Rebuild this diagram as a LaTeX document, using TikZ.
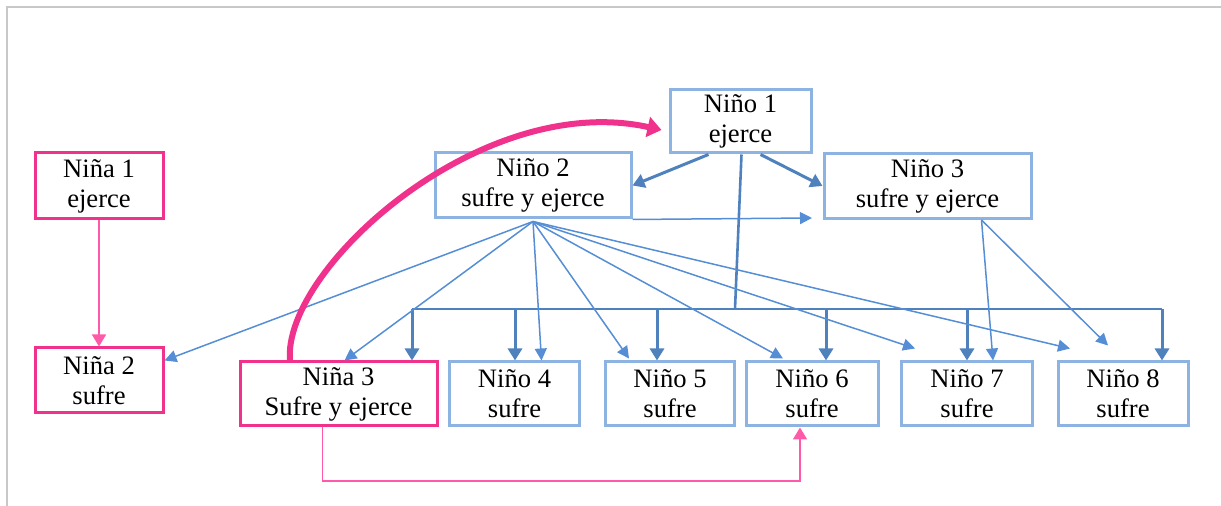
\documentclass[tikz,border=0pt]{standalone}
\usepackage{fontspec}
\setmainfont{Liberation Serif}
\usetikzlibrary{arrows.meta}
\definecolor{boxblue}{RGB}{141,179,226}
\definecolor{darkblue}{RGB}{79,129,189}
\definecolor{lineblue}{RGB}{85,142,213}
\definecolor{rosa}{RGB}{240,50,140}
\definecolor{rosaclaro}{RGB}{255,90,170}
\definecolor{marco}{RGB}{200,200,200}

\begin{document}
\begin{tikzpicture}[x=0.5pt, y=-0.5pt,
    nino/.style={draw=boxblue, line width=1.5pt, align=center, inner sep=0pt,
        font=\fontsize{13.3}{15}\selectfont},
    nina/.style={nino, draw=rosa},
    lowbox/.style={minimum height=32pt},
    mainarrow/.style={darkblue, line width=1.5pt, -{Triangle[length=6pt,width=7pt]}},
    busline/.style={darkblue, line width=1.3pt},
    fan/.style={lineblue, line width=0.75pt, -{Triangle[length=6pt,width=6pt]}},
    rosaline/.style={rosaclaro, line width=0.8pt, -{Triangle[length=6pt,width=7pt]}},
    curva/.style={rosa, line width=3pt, -{Triangle[length=7pt,width=10pt]}}]
    \useasboundingbox (0,0) rectangle (1221,506);
    \draw[marco, line width=1pt] (7,506) -- (7,7) -- (1221,7);

    % Top row
    \node[nino, minimum width=70.5pt, minimum height=31.5pt] (n1) at (740.5,121.5) {Niño 1\\ejerce};
    \node[nino, minimum width=98pt, minimum height=32.5pt] (n2) at (533,185.5) {Niño 2\\sufre y ejerce};
    \node[nino, minimum width=103.5pt, minimum height=32.5pt] (n3) at (927.5,186) {Niño 3\\sufre y ejerce};

    % Left side (girls)
    \node[nina, minimum width=64pt, minimum height=33pt] (a1) at (99,186) {Niña 1\\ejerce};
    \node[nina, minimum width=64pt, minimum height=32.5pt] (a2) at (99,380.5) {Niña 2\\sufre};

    % Bottom row
    \node[nina, lowbox, minimum width=98.5pt] (a3) at (338.5,394) {Niña 3\\Sufre y ejerce};
    \foreach \i/\x/\w in {4/514.5/65, 5/670/64.5, 6/812/66, 7/967/65.5, 8/1123/65}
        \node[nino, lowbox, minimum width=\w pt] (n\i) at (\x,394) {Niño \i\\sufre};

    \coordinate (bus) at (735,309);
    \coordinate (gap) at (812,218);

    % Niño 1 -> Niño 2, Niño 3
    \draw[mainarrow] ([xshift=-16pt]n1.south) -- (n2.east);
    \draw[mainarrow] ([xshift=10pt]n1.south) -- (n3.west);

    % Bus from Niño 1
    \draw[busline] ([xshift=0.5pt]n1.south) -- (bus);
    \draw[busline] ([xshift=36.75pt]a3.north |- bus) -- ([xshift=19.5pt]n8.north |- bus);
    \foreach \t/\dx in {a3/36.75, n4/0.25, n5/-6.5, n6/7, n7/0, n8/19.5}
        \draw[mainarrow] ([xshift=\dx pt]\t.north |- bus) -- ([xshift=\dx pt]\t.north);

    % Fan from Niño 2
    \draw[fan] (n2.south east) -- (gap);
    \draw[fan] ([yshift=-1pt]n2.south) -- ([yshift=10pt]a2.east);
    \draw[fan] ([yshift=-1pt]n2.south) -- ([xshift=3pt]a3.north);
    \draw[fan] ([yshift=-1pt]n2.south) -- ([xshift=13.5pt]n4.north);
    \draw[fan] ([yshift=-1pt]n2.south) -- ([xshift=-20.5pt,yshift=1pt]n5.north);
    \draw[fan] ([yshift=-1pt]n2.south) -- ([xshift=-14.5pt,yshift=1pt]n6.north);
    \draw[fan] ([yshift=-1pt]n2.south) -- ([xshift=-26pt,yshift=6pt]n7.north);
    \draw[fan] ([yshift=-1pt]n2.south) -- ([xshift=-26.5pt,yshift=6pt]n8.north);

    % Fan from Niño 3
    \draw[fan] ([xshift=27pt]n3.south) -- ([xshift=13pt]n7.north);
    \draw[fan] ([xshift=27pt]n3.south) -- ([xshift=-7.5pt,yshift=7.5pt]n8.north);

    % Pink connectors
    \draw[rosaline] (a1.south) -- (a2.north);
    \draw[rosaline] ([xshift=-8pt]a3.south) |- (560,481) -| ([xshift=-6pt]n6.south);
    \draw[curva] ([xshift=-24.25pt]a3.north) .. controls (282,270) and (480,90) .. ([xshift=-3.5pt,yshift=-4.25pt]n1.west);
\end{tikzpicture}
\end{document}
